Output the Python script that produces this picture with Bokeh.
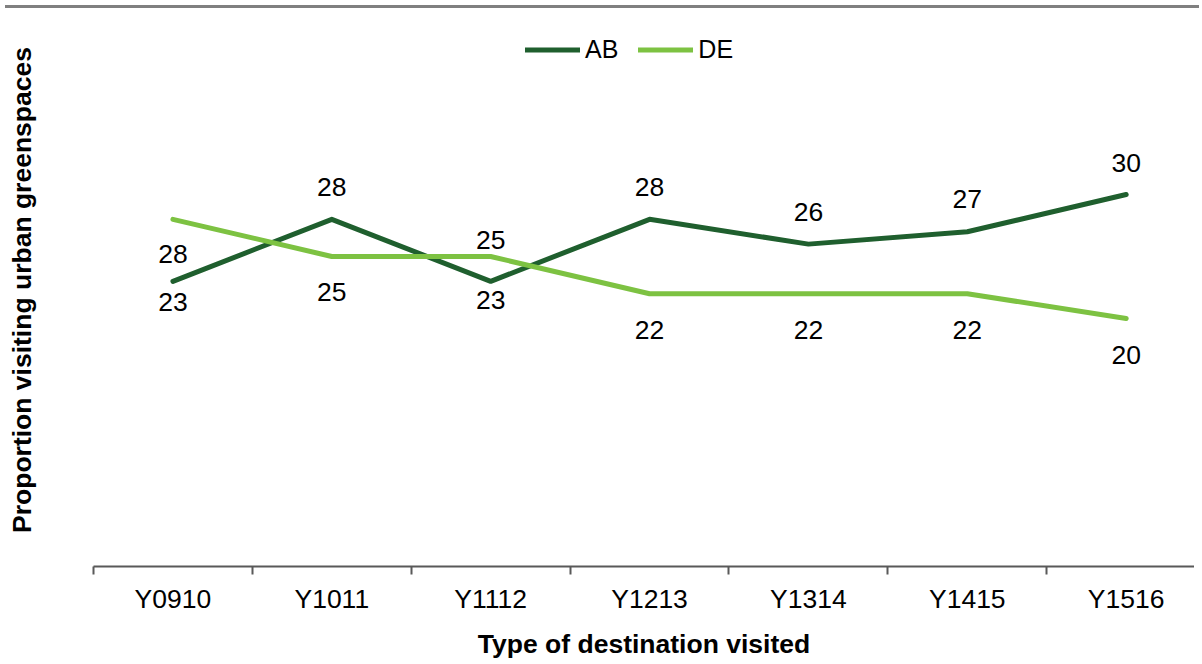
from bokeh.plotting import figure
from bokeh.models import Range1d, FixedTicker, ColumnDataSource, Legend, LegendItem, Div
from bokeh.layouts import column
from bokeh.core.properties import value
from bokeh.embed import file_html
from bokeh.resources import INLINE

categories = ["Y0910", "Y1011", "Y1112", "Y1213", "Y1314", "Y1415", "Y1516"]
ab = [23, 28, 23, 28, 26, 27, 30]
de = [28, 25, 25, 22, 22, 22, 20]

# label offsets (screen px, positive = down)
ab_label_dy = [21, -32, 19, -32, -32, -33, -32]
de_label_dy = [35, 35, -17, 36, 36, 36, 36]

AB_COLOR = "#1F5F2E"
DE_COLOR = "#7DC242"
FONT = "Liberation Sans"

idx = list(range(len(categories)))

p = figure(width=1194, height=650,
           x_range=Range1d(-0.5, 6.43), y_range=Range1d(0, 44.6),
           output_backend="svg", toolbar_location=None,
           min_border_left=93, min_border_right=0, min_border_top=0, min_border_bottom=97)
p.outline_line_color = None
p.grid.visible = False
p.background_fill_color = "white"

src_ab = ColumnDataSource(dict(x=idx, y=ab, t=[str(v) for v in ab], dy=ab_label_dy))
src_de = ColumnDataSource(dict(x=idx, y=de, t=[str(v) for v in de], dy=de_label_dy))

r_ab = p.line("x", "y", source=src_ab, line_color=AB_COLOR, line_width=5,
              line_cap="round", line_join="round")
r_de = p.line("x", "y", source=src_de, line_color=DE_COLOR, line_width=5,
              line_cap="round", line_join="round")

for src in (src_ab, src_de):
    p.text("x", "y", text="t", y_offset="dy", source=src,
           text_align="center", text_baseline="middle",
           text_font=value(FONT), text_font_size="26.5px", text_color="black")

xa = p.xaxis[0]
xa.ticker = FixedTicker(ticks=idx, minor_ticks=[i - 0.5 for i in range(len(categories) + 1)])
xa.major_label_overrides = {i: c for i, c in enumerate(categories)}
xa.major_tick_out = 0
xa.major_tick_in = 0
xa.minor_tick_out = 8
xa.minor_tick_in = 0
xa.minor_tick_line_color = "#595959"
xa.minor_tick_line_width = 2
xa.axis_line_color = "#595959"
xa.axis_line_width = 2
xa.major_label_text_font = FONT
xa.major_label_text_font_size = "26.5px"
xa.major_label_text_color = "black"
xa.major_label_standoff = 9
xa.axis_label = "Type of destination visited"
xa.axis_label_text_font = FONT
xa.axis_label_text_font_style = "bold"
xa.axis_label_text_font_size = "26.5px"
xa.axis_label_text_color = "black"
xa.axis_label_standoff = 12

ya = p.yaxis[0]
ya.ticker = FixedTicker(ticks=[])
ya.axis_line_color = None
ya.major_tick_line_color = None
ya.minor_tick_line_color = None
ya.axis_label = "Proportion visiting urban greenspaces"
ya.axis_label_text_font = FONT
ya.axis_label_text_font_style = "bold"
ya.axis_label_text_font_size = "26.5px"
ya.axis_label_text_color = "black"
ya.axis_label_standoff = 57

legend = Legend(items=[LegendItem(label="AB", renderers=[r_ab]),
                       LegendItem(label="DE", renderers=[r_de])],
                orientation="horizontal", location=(432, 502),
                glyph_width=55, glyph_height=25, label_standoff=5, spacing=20,
                padding=0, margin=0, border_line_color=None,
                background_fill_alpha=0,
                label_text_font=FONT, label_text_font_size="25px",
                label_text_color="black")
p.add_layout(legend, "center")

top_line = Div(width=1194, height=3, styles={"background-color": "#808080"})
layout = column(top_line, p, spacing=0)

open("out.html", "w").write(file_html(layout, INLINE))
